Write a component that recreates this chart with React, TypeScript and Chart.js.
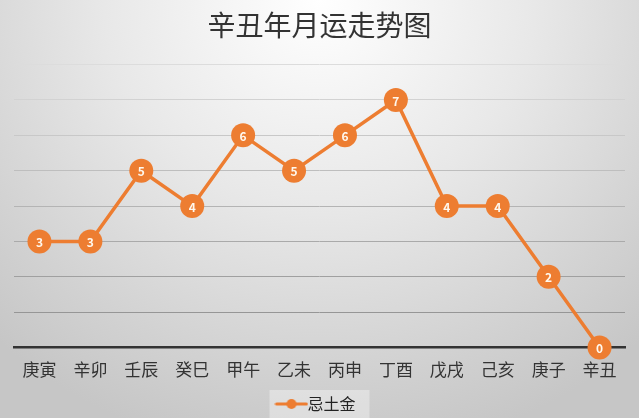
import React, { useEffect, useRef } from "react";
import { Chart, registerables } from "chart.js";

Chart.register(...registerables);

const titleText = "辛丑年月运走势图";
const categories = ["庚寅", "辛卯", "壬辰", "癸巳", "甲午", "乙未", "丙申", "丁酉", "戊戌", "己亥", "庚子", "辛丑"];
const seriesName = "忌土金";
const seriesValues = [3, 3, 5, 4, 6, 5, 6, 7, 4, 4, 2, 0];
const yMin = 0;
const yMax = 8;

const ORANGE = "#ED7D31";
const FONT = "'Noto Sans CJK SC', 'Noto Sans', sans-serif";

function makeLegendIcon(): HTMLCanvasElement {
  const c = document.createElement("canvas");
  const dpr = window.devicePixelRatio || 1;
  c.width = 34 * dpr;
  c.height = 12 * dpr;
  c.style.width = "34px";
  c.style.height = "12px";
  const ctx = c.getContext("2d")!;
  ctx.scale(dpr, dpr);
  ctx.strokeStyle = ORANGE;
  ctx.lineWidth = 3;
  ctx.lineCap = "round";
  ctx.beginPath();
  ctx.moveTo(2, 6);
  ctx.lineTo(32, 6);
  ctx.stroke();
  ctx.fillStyle = ORANGE;
  ctx.beginPath();
  ctx.arc(17, 6, 5, 0, Math.PI * 2);
  ctx.fill();
  return c;
}

const valueLabels = {
  id: "valueLabels",
  afterDatasetsDraw(chart: any) {
    const ctx = chart.ctx;
    const meta = chart.getDatasetMeta(0);
    ctx.save();
    ctx.fillStyle = "#FFF8EE";
    ctx.font = `bold 12px ${FONT}`;
    ctx.textAlign = "center";
    ctx.textBaseline = "middle";
    meta.data.forEach((pt: any, i: number) => {
      ctx.fillText(String(chart.data.datasets[0].data[i]), pt.x, pt.y + 1);
    });
    ctx.restore();
  },
};

const legendBox = {
  id: "legendBox",
  beforeDraw(chart: any) {
    const lg = chart.legend;
    if (!lg || !lg.legendHitBoxes || !lg.legendHitBoxes.length) return;
    const hb = lg.legendHitBoxes[0];
    const ctx = chart.ctx;
    const top = hb.top + hb.height / 2 - 14;
    ctx.save();
    ctx.fillStyle = "rgba(255,255,255,0.35)";
    ctx.fillRect(hb.left - 14, top, hb.width + 28, chart.height - top);
    ctx.restore();
  },
};

export default function App() {
  const ref = useRef<HTMLCanvasElement>(null);
  useEffect(() => {
    document.body.style.margin = "0";
    const icon = makeLegendIcon();
    const chart = new Chart(ref.current!, {
      type: "line",
      data: {
        labels: categories,
        datasets: [
          {
            label: seriesName,
            data: seriesValues,
            borderColor: ORANGE,
            backgroundColor: ORANGE,
            borderWidth: 3.5,
            pointRadius: 12,
            pointBackgroundColor: ORANGE,
            pointBorderColor: ORANGE,
            pointBorderWidth: 0,
            tension: 0,
            clip: false as any,
          },
        ],
      },
      options: {
        animation: false,
        responsive: true,
        maintainAspectRatio: false,
        layout: { padding: { left: 14, right: 14, top: 0, bottom: -4 } },
        plugins: {
          title: {
            display: true,
            text: titleText,
            color: "#333333",
            font: { family: FONT, size: 28, weight: "normal" },
            padding: { top: 9, bottom: 22 },
          },
          legend: {
            display: true,
            position: "bottom",
            labels: {
              color: "#222222",
              font: { family: FONT, size: 16 },
              usePointStyle: true,
              padding: 12,
              generateLabels: () => [
                {
                  text: seriesName,
                  pointStyle: icon,
                  fillStyle: ORANGE,
                  strokeStyle: ORANGE,
                  lineWidth: 0,
                  hidden: false,
                  datasetIndex: 0,
                  fontColor: "#222222",
                },
              ],
            },
          },
          tooltip: { enabled: false },
        },
        scales: {
          x: {
            offset: true,
            grid: { display: false },
            border: { display: true, color: "#333333", width: 2.5 },
            ticks: {
              color: "#333333",
              font: { family: FONT, size: 17 },
              padding: 4,
              maxRotation: 0,
            },
          },
          y: {
            min: yMin,
            max: yMax,
            ticks: { display: false, stepSize: 1 },
            border: { display: false },
            grid: {
              drawTicks: false,
              lineWidth: 1,
              color: (c: any) => {
                const v = c.tick ? c.tick.value : 0;
                const g = Math.round(140 + (v / yMax) * 80);
                return `rgb(${g},${g},${g})`;
              },
            },
          },
        },
      },
      plugins: [legendBox, valueLabels],
    });
    return () => chart.destroy();
  }, []);
  return (
    <div
      style={{
        position: "absolute",
        left: 0,
        top: 0,
        width: 639,
        height: 418,
        background:
          "radial-gradient(ellipse 75% 110% at 50% 0%, #ffffff 0%, #e8e8e8 45%, #d2d2d2 80%, #c6c6c6 100%)",
      }}
    >
      <canvas ref={ref} />
    </div>
  );
}
